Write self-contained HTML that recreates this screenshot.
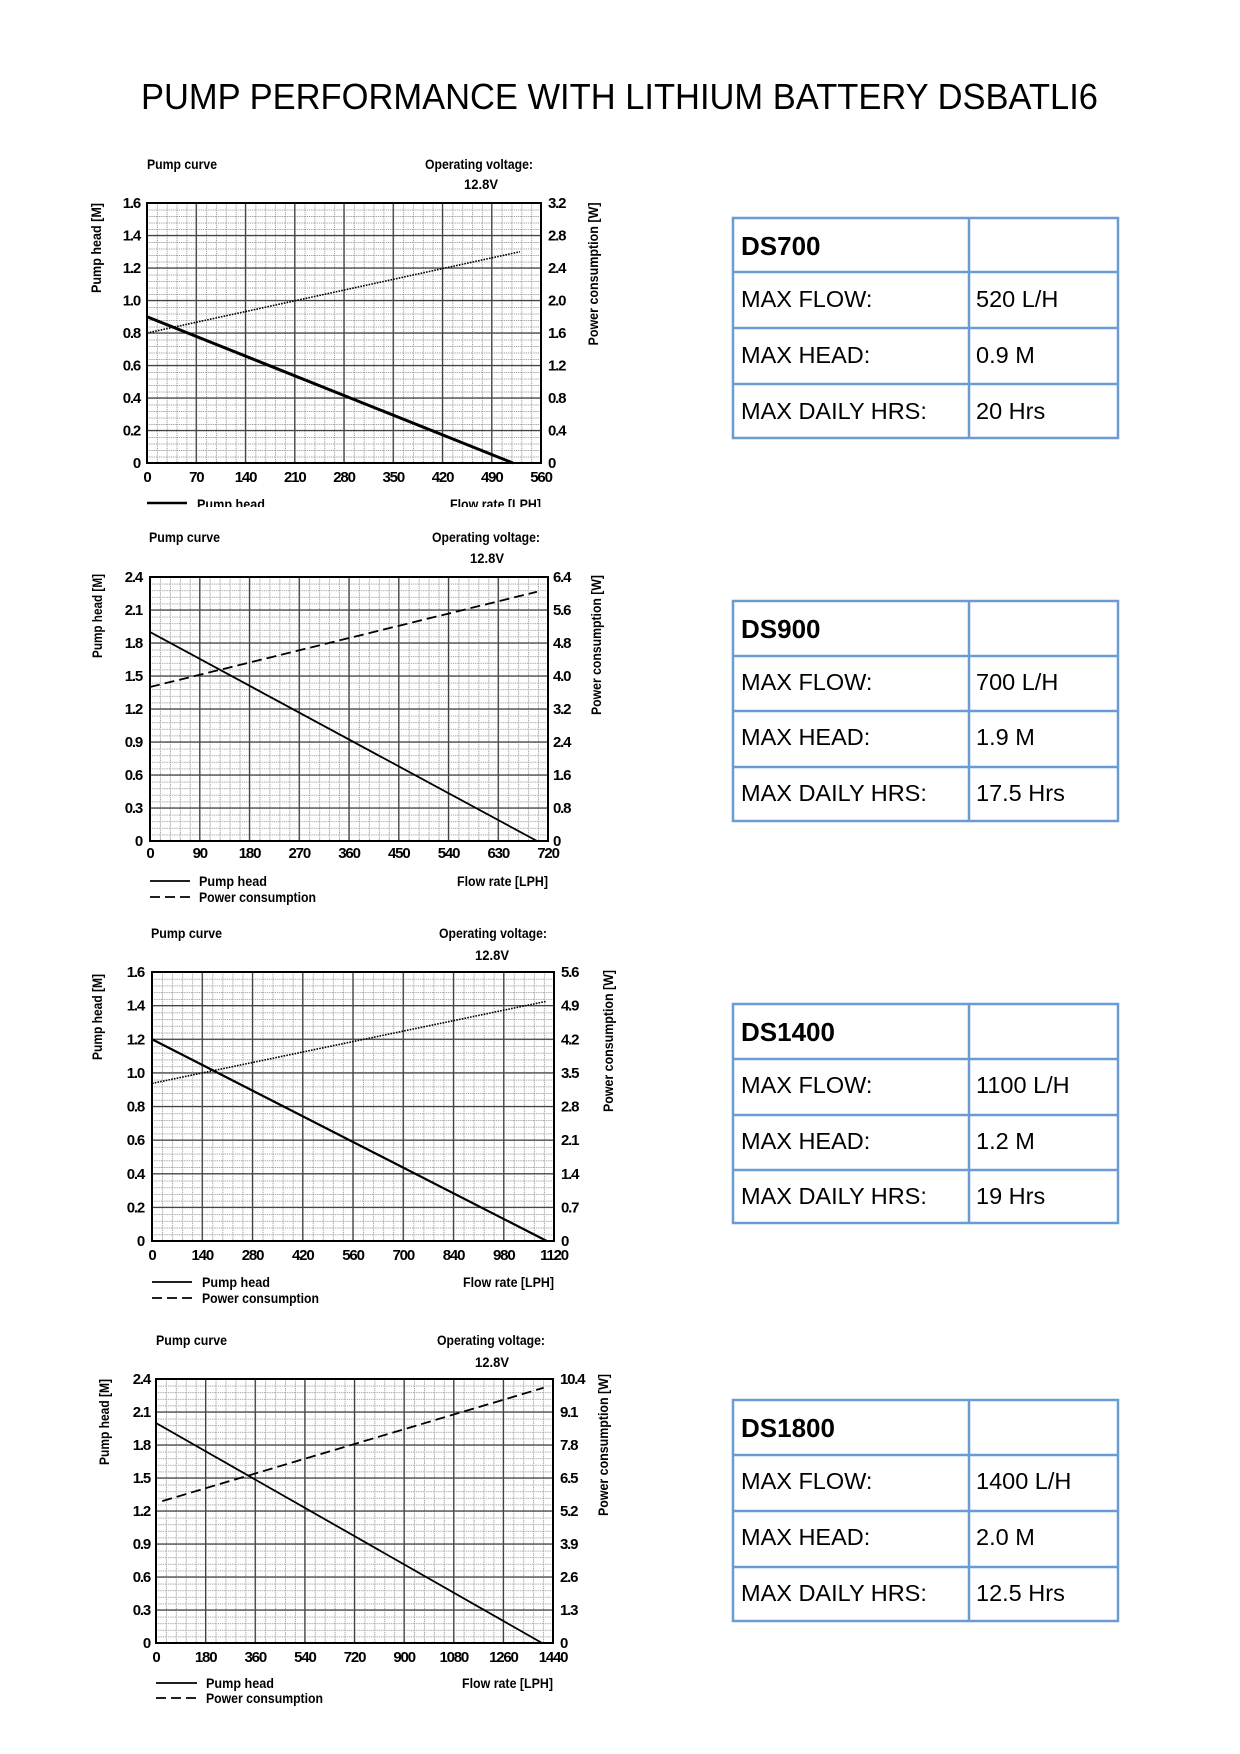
<!DOCTYPE html>
<html>
<head>
<meta charset="utf-8">
<style>
html,body{margin:0;padding:0;background:#fff;}
svg{display:block;}
.t{font-family:"Liberation Sans",Arial,sans-serif;font-weight:bold;font-size:15px;fill:#000;letter-spacing:-1.2px;}
.l{font-family:"Liberation Sans",Arial,sans-serif;font-weight:bold;font-size:14px;fill:#000;}
.tb{font-family:"Liberation Sans",Arial,sans-serif;font-size:23.5px;fill:#000;}
.th{font-family:"Liberation Sans",Arial,sans-serif;font-size:26px;font-weight:bold;fill:#000;}
.maj{stroke:#444;stroke-width:1.3;fill:none;}
.brd{stroke:#000;stroke-width:2;fill:none;}
.tbl{stroke:#6a9bd2;stroke-width:2.5;fill:none;}
</style>
</head>
<body>
<svg width="1240" height="1754" viewBox="0 0 1240 1754" xmlns="http://www.w3.org/2000/svg">
<defs>
<pattern id="g1" patternUnits="userSpaceOnUse" x="147" y="203" width="9.85" height="6.5"><path d="M0.5,0V6.5M0,0.5H9.85" stroke="#999" stroke-width="1" stroke-dasharray="1.2,1"/></pattern>
<pattern id="g2" patternUnits="userSpaceOnUse" x="150" y="577" width="9.95" height="6.6"><path d="M0.5,0V6.6M0,0.5H9.95" stroke="#999" stroke-width="1" stroke-dasharray="1.2,1"/></pattern>
<pattern id="g3" patternUnits="userSpaceOnUse" x="152" y="972" width="10.05" height="6.725"><path d="M0.5,0V6.725M0,0.5H10.05" stroke="#999" stroke-width="1" stroke-dasharray="1.2,1"/></pattern>
<pattern id="g4" patternUnits="userSpaceOnUse" x="156" y="1379" width="9.925" height="6.6"><path d="M0.5,0V6.6M0,0.5H9.925" stroke="#999" stroke-width="1" stroke-dasharray="1.2,1"/></pattern>
<clipPath id="c1"><rect x="0" y="0" width="1240" height="507"/></clipPath>
</defs>
<rect width="1240" height="1754" fill="#fff"/>

<!-- Title -->
<text x="141" y="109" textLength="957" lengthAdjust="spacingAndGlyphs" style="font-family:'Liberation Sans',Arial,sans-serif;font-size:36px;fill:#000;">PUMP PERFORMANCE WITH LITHIUM BATTERY DSBATLI6</text>

<!-- ================= CHART 1 ================= -->
<text class="l" x="147" y="169" textLength="70" lengthAdjust="spacingAndGlyphs">Pump curve</text>
<text class="l" x="533" y="169" text-anchor="end" textLength="108" lengthAdjust="spacingAndGlyphs">Operating voltage:</text>
<text class="l" x="481" y="189" text-anchor="middle" textLength="34" lengthAdjust="spacingAndGlyphs">12.8V</text>
<rect x="147" y="203" width="394" height="260" fill="url(#g1)"/>
<path class="maj" d="M196.25,203V463M245.5,203V463M294.75,203V463M344,203V463M393.25,203V463M442.5,203V463M491.75,203V463M147,430.5H541M147,398H541M147,365.5H541M147,333H541M147,300.5H541M147,268H541M147,235.5H541"/>
<rect class="brd" x="147" y="203" width="394" height="260"/>
<line x1="147" y1="333" x2="519.9" y2="251.75" stroke="#000" stroke-width="1.6" stroke-dasharray="1.6,1.2"/>
<line x1="147" y1="316.75" x2="512.9" y2="463" stroke="#000" stroke-width="3"/>
<g class="t" text-anchor="end">
<text x="140" y="468">0</text><text x="140" y="435.5">0.2</text><text x="140" y="403">0.4</text><text x="140" y="370.5">0.6</text><text x="140" y="338">0.8</text><text x="140" y="305.5">1.0</text><text x="140" y="273">1.2</text><text x="140" y="240.5">1.4</text><text x="140" y="208">1.6</text>
</g>
<g class="t">
<text x="548" y="468">0</text><text x="548" y="435.5">0.4</text><text x="548" y="403">0.8</text><text x="548" y="370.5">1.2</text><text x="548" y="338">1.6</text><text x="548" y="305.5">2.0</text><text x="548" y="273">2.4</text><text x="548" y="240.5">2.8</text><text x="548" y="208">3.2</text>
</g>
<g class="t" text-anchor="middle">
<text x="147" y="482">0</text><text x="196.25" y="482">70</text><text x="245.5" y="482">140</text><text x="294.75" y="482">210</text><text x="344" y="482">280</text><text x="393.25" y="482">350</text><text x="442.5" y="482">420</text><text x="491.75" y="482">490</text><text x="541" y="482">560</text>
</g>
<text class="l" transform="translate(101,248) rotate(-90)" text-anchor="middle" textLength="90" lengthAdjust="spacingAndGlyphs">Pump head [M]</text>
<text class="l" transform="translate(598,274) rotate(-90)" text-anchor="middle" textLength="143" lengthAdjust="spacingAndGlyphs">Power consumption [W]</text>
<g clip-path="url(#c1)">
<line x1="147" y1="503" x2="187" y2="503" stroke="#000" stroke-width="2.5"/>
<text class="l" x="197" y="509" textLength="68" lengthAdjust="spacingAndGlyphs">Pump head</text>
<text class="l" x="541" y="509" text-anchor="end" textLength="91" lengthAdjust="spacingAndGlyphs">Flow rate [LPH]</text>
</g>

<!-- ================= CHART 2 ================= -->
<text class="l" x="149" y="542" textLength="71" lengthAdjust="spacingAndGlyphs">Pump curve</text>
<text class="l" x="540" y="542" text-anchor="end" textLength="108" lengthAdjust="spacingAndGlyphs">Operating voltage:</text>
<text class="l" x="487" y="563" text-anchor="middle" textLength="34" lengthAdjust="spacingAndGlyphs">12.8V</text>
<rect x="150" y="577" width="398" height="264" fill="url(#g2)"/>
<path class="maj" d="M199.75,577V841M249.5,577V841M299.25,577V841M349,577V841M398.75,577V841M448.5,577V841M498.25,577V841M150,808H548M150,775H548M150,742H548M150,709H548M150,676H548M150,643H548M150,610H548"/>
<rect class="brd" x="150" y="577" width="398" height="264"/>
<line x1="150" y1="687" x2="537" y2="591.8" stroke="#000" stroke-width="1.8" stroke-dasharray="10,5"/>
<line x1="150" y1="632" x2="537" y2="841" stroke="#000" stroke-width="1.8"/>
<g class="t" text-anchor="end">
<text x="142" y="846">0</text><text x="142" y="813">0.3</text><text x="142" y="780">0.6</text><text x="142" y="747">0.9</text><text x="142" y="714">1.2</text><text x="142" y="681">1.5</text><text x="142" y="648">1.8</text><text x="142" y="615">2.1</text><text x="142" y="582">2.4</text>
</g>
<g class="t">
<text x="553" y="846">0</text><text x="553" y="813">0.8</text><text x="553" y="780">1.6</text><text x="553" y="747">2.4</text><text x="553" y="714">3.2</text><text x="553" y="681">4.0</text><text x="553" y="648">4.8</text><text x="553" y="615">5.6</text><text x="553" y="582">6.4</text>
</g>
<g class="t" text-anchor="middle">
<text x="150" y="858">0</text><text x="199.75" y="858">90</text><text x="249.5" y="858">180</text><text x="299.25" y="858">270</text><text x="349" y="858">360</text><text x="398.75" y="858">450</text><text x="448.5" y="858">540</text><text x="498.25" y="858">630</text><text x="548" y="858">720</text>
</g>
<text class="l" transform="translate(102,616) rotate(-90)" text-anchor="middle" textLength="84" lengthAdjust="spacingAndGlyphs">Pump head [M]</text>
<text class="l" transform="translate(601,645) rotate(-90)" text-anchor="middle" textLength="140" lengthAdjust="spacingAndGlyphs">Power consumption [W]</text>
<line x1="150" y1="881" x2="190" y2="881" stroke="#000" stroke-width="1.8"/>
<line x1="150" y1="897" x2="190" y2="897" stroke="#000" stroke-width="1.8" stroke-dasharray="10,5"/>
<text class="l" x="199" y="886" textLength="68" lengthAdjust="spacingAndGlyphs">Pump head</text>
<text class="l" x="199" y="902" textLength="117" lengthAdjust="spacingAndGlyphs">Power consumption</text>
<text class="l" x="548" y="886" text-anchor="end" textLength="91" lengthAdjust="spacingAndGlyphs">Flow rate [LPH]</text>

<!-- ================= CHART 3 ================= -->
<text class="l" x="151" y="938" textLength="71" lengthAdjust="spacingAndGlyphs">Pump curve</text>
<text class="l" x="547" y="938" text-anchor="end" textLength="108" lengthAdjust="spacingAndGlyphs">Operating voltage:</text>
<text class="l" x="492" y="960" text-anchor="middle" textLength="34" lengthAdjust="spacingAndGlyphs">12.8V</text>
<rect x="152" y="972" width="402" height="269" fill="url(#g3)"/>
<path class="maj" d="M202.25,972V1241M252.5,972V1241M302.75,972V1241M353,972V1241M403.25,972V1241M453.5,972V1241M503.75,972V1241M152,1207.375H554M152,1173.75H554M152,1140.125H554M152,1106.5H554M152,1072.875H554M152,1039.25H554M152,1005.625H554"/>
<rect class="brd" x="152" y="972" width="402" height="269"/>
<line x1="152" y1="1083.4" x2="546.5" y2="1001.3" stroke="#000" stroke-width="1.6" stroke-dasharray="1.6,1.2"/>
<line x1="152" y1="1039.25" x2="546.8" y2="1241" stroke="#000" stroke-width="2.2"/>
<g class="t" text-anchor="end">
<text x="144" y="1246">0</text><text x="144" y="1212.4">0.2</text><text x="144" y="1178.8">0.4</text><text x="144" y="1145.1">0.6</text><text x="144" y="1111.5">0.8</text><text x="144" y="1077.9">1.0</text><text x="144" y="1044.3">1.2</text><text x="144" y="1010.6">1.4</text><text x="144" y="977">1.6</text>
</g>
<g class="t">
<text x="561" y="1246">0</text><text x="561" y="1212.4">0.7</text><text x="561" y="1178.8">1.4</text><text x="561" y="1145.1">2.1</text><text x="561" y="1111.5">2.8</text><text x="561" y="1077.9">3.5</text><text x="561" y="1044.3">4.2</text><text x="561" y="1010.6">4.9</text><text x="561" y="977">5.6</text>
</g>
<g class="t" text-anchor="middle">
<text x="152" y="1260">0</text><text x="202.25" y="1260">140</text><text x="252.5" y="1260">280</text><text x="302.75" y="1260">420</text><text x="353" y="1260">560</text><text x="403.25" y="1260">700</text><text x="453.5" y="1260">840</text><text x="503.75" y="1260">980</text><text x="554" y="1260">1120</text>
</g>
<text class="l" transform="translate(102,1017) rotate(-90)" text-anchor="middle" textLength="86" lengthAdjust="spacingAndGlyphs">Pump head [M]</text>
<text class="l" transform="translate(613,1041) rotate(-90)" text-anchor="middle" textLength="142" lengthAdjust="spacingAndGlyphs">Power consumption [W]</text>
<line x1="152" y1="1282" x2="192" y2="1282" stroke="#000" stroke-width="1.8"/>
<line x1="152" y1="1298" x2="192" y2="1298" stroke="#000" stroke-width="1.8" stroke-dasharray="10,5"/>
<text class="l" x="202" y="1287" textLength="68" lengthAdjust="spacingAndGlyphs">Pump head</text>
<text class="l" x="202" y="1303" textLength="117" lengthAdjust="spacingAndGlyphs">Power consumption</text>
<text class="l" x="554" y="1287" text-anchor="end" textLength="91" lengthAdjust="spacingAndGlyphs">Flow rate [LPH]</text>

<!-- ================= CHART 4 ================= -->
<text class="l" x="156" y="1345" textLength="71" lengthAdjust="spacingAndGlyphs">Pump curve</text>
<text class="l" x="545" y="1345" text-anchor="end" textLength="108" lengthAdjust="spacingAndGlyphs">Operating voltage:</text>
<text class="l" x="492" y="1367" text-anchor="middle" textLength="34" lengthAdjust="spacingAndGlyphs">12.8V</text>
<rect x="156" y="1379" width="397" height="264" fill="url(#g4)"/>
<path class="maj" d="M205.625,1379V1643M255.25,1379V1643M304.875,1379V1643M354.5,1379V1643M404.125,1379V1643M453.75,1379V1643M503.375,1379V1643M156,1610H553M156,1577H553M156,1544H553M156,1511H553M156,1478H553M156,1445H553M156,1412H553"/>
<rect class="brd" x="156" y="1379" width="397" height="264"/>
<line x1="162.3" y1="1501.1" x2="543.6" y2="1387.8" stroke="#000" stroke-width="1.8" stroke-dasharray="10,5"/>
<line x1="156" y1="1423" x2="542" y2="1643" stroke="#000" stroke-width="1.8"/>
<g class="t" text-anchor="end">
<text x="150" y="1648">0</text><text x="150" y="1615">0.3</text><text x="150" y="1582">0.6</text><text x="150" y="1549">0.9</text><text x="150" y="1516">1.2</text><text x="150" y="1483">1.5</text><text x="150" y="1450">1.8</text><text x="150" y="1417">2.1</text><text x="150" y="1384">2.4</text>
</g>
<g class="t">
<text x="560" y="1648">0</text><text x="560" y="1615">1.3</text><text x="560" y="1582">2.6</text><text x="560" y="1549">3.9</text><text x="560" y="1516">5.2</text><text x="560" y="1483">6.5</text><text x="560" y="1450">7.8</text><text x="560" y="1417">9.1</text><text x="560" y="1384">10.4</text>
</g>
<g class="t" text-anchor="middle">
<text x="156" y="1662">0</text><text x="205.625" y="1662">180</text><text x="255.25" y="1662">360</text><text x="304.875" y="1662">540</text><text x="354.5" y="1662">720</text><text x="404.125" y="1662">900</text><text x="453.75" y="1662">1080</text><text x="503.375" y="1662">1260</text><text x="553" y="1662">1440</text>
</g>
<text class="l" transform="translate(109,1422) rotate(-90)" text-anchor="middle" textLength="86" lengthAdjust="spacingAndGlyphs">Pump head [M]</text>
<text class="l" transform="translate(608,1445) rotate(-90)" text-anchor="middle" textLength="142" lengthAdjust="spacingAndGlyphs">Power consumption [W]</text>
<line x1="156" y1="1683" x2="197" y2="1683" stroke="#000" stroke-width="1.8"/>
<line x1="156" y1="1698" x2="197" y2="1698" stroke="#000" stroke-width="1.8" stroke-dasharray="10,5"/>
<text class="l" x="206" y="1688" textLength="68" lengthAdjust="spacingAndGlyphs">Pump head</text>
<text class="l" x="206" y="1703" textLength="117" lengthAdjust="spacingAndGlyphs">Power consumption</text>
<text class="l" x="553" y="1688" text-anchor="end" textLength="91" lengthAdjust="spacingAndGlyphs">Flow rate [LPH]</text>

<!-- ================= TABLES ================= -->
<!-- DS700 -->
<path class="tbl" d="M733,218H1118V438H733ZM733,272H1118M733,328H1118M733,384H1118M969,218V438"/>
<text class="th" x="741" y="255">DS700</text>
<text class="tb" x="741" y="307">MAX FLOW:</text><text class="tb" x="976" y="307">520 L/H</text>
<text class="tb" x="741" y="363">MAX HEAD:</text><text class="tb" x="976" y="363">0.9 M</text>
<text class="tb" x="741" y="419">MAX DAILY HRS:</text><text class="tb" x="976" y="419">20 Hrs</text>

<!-- DS900 -->
<path class="tbl" d="M733,601H1118V821H733ZM733,656H1118M733,711H1118M733,767H1118M969,601V821"/>
<text class="th" x="741" y="638">DS900</text>
<text class="tb" x="741" y="690">MAX FLOW:</text><text class="tb" x="976" y="690">700 L/H</text>
<text class="tb" x="741" y="745">MAX HEAD:</text><text class="tb" x="976" y="745">1.9 M</text>
<text class="tb" x="741" y="801">MAX DAILY HRS:</text><text class="tb" x="976" y="801">17.5 Hrs</text>

<!-- DS1400 -->
<path class="tbl" d="M733,1004H1118V1223H733ZM733,1059H1118M733,1115H1118M733,1170H1118M969,1004V1223"/>
<text class="th" x="741" y="1041">DS1400</text>
<text class="tb" x="741" y="1093">MAX FLOW:</text><text class="tb" x="976" y="1093">1100 L/H</text>
<text class="tb" x="741" y="1149">MAX HEAD:</text><text class="tb" x="976" y="1149">1.2 M</text>
<text class="tb" x="741" y="1204">MAX DAILY HRS:</text><text class="tb" x="976" y="1204">19 Hrs</text>

<!-- DS1800 -->
<path class="tbl" d="M733,1400H1118V1621H733ZM733,1455H1118M733,1511H1118M733,1567H1118M969,1400V1621"/>
<text class="th" x="741" y="1437">DS1800</text>
<text class="tb" x="741" y="1489">MAX FLOW:</text><text class="tb" x="976" y="1489">1400 L/H</text>
<text class="tb" x="741" y="1545">MAX HEAD:</text><text class="tb" x="976" y="1545">2.0 M</text>
<text class="tb" x="741" y="1601">MAX DAILY HRS:</text><text class="tb" x="976" y="1601">12.5 Hrs</text>
</svg>
</body>
</html>
